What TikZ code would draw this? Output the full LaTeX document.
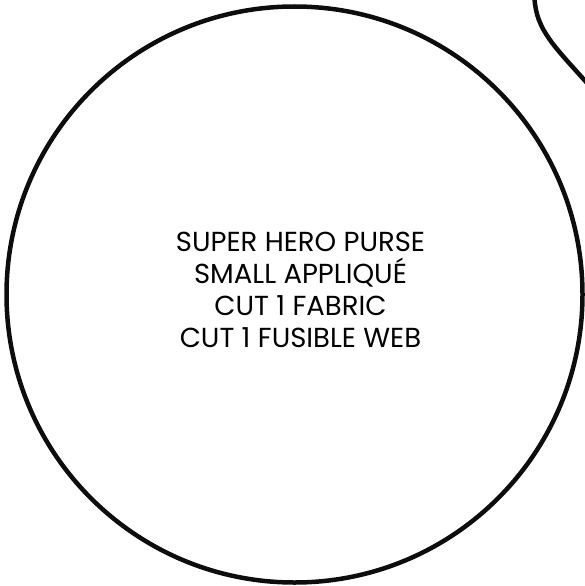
\documentclass[tikz,border=0pt]{standalone}
\usepackage{fontspec}
\setmainfont{Poppins}
\begin{document}
\begin{tikzpicture}[x=1pt,y=-1pt,
  outline/.style={draw=black!95, line width=4.5pt},
  label/.style={align=center, font=\fontsize{27.5}{32}\selectfont, inner sep=0pt}]
\useasboundingbox (0,0) rectangle (585,586);
\coordinate (c) at (294.5,294.5);
\draw[outline] (c) circle (288);
\coordinate (a0) at (534.5,-2);
\coordinate (a1) at (587,83);
\draw[outline] (a0) .. controls (536,30) and (555,47) .. (a1);
\node[label] (txt) at (300.5,290) {SUPER HERO PURSE\\SMALL APPLIQUÉ\\CUT 1 FABRIC\\CUT 1 FUSIBLE WEB};
\end{tikzpicture}
\end{document}
